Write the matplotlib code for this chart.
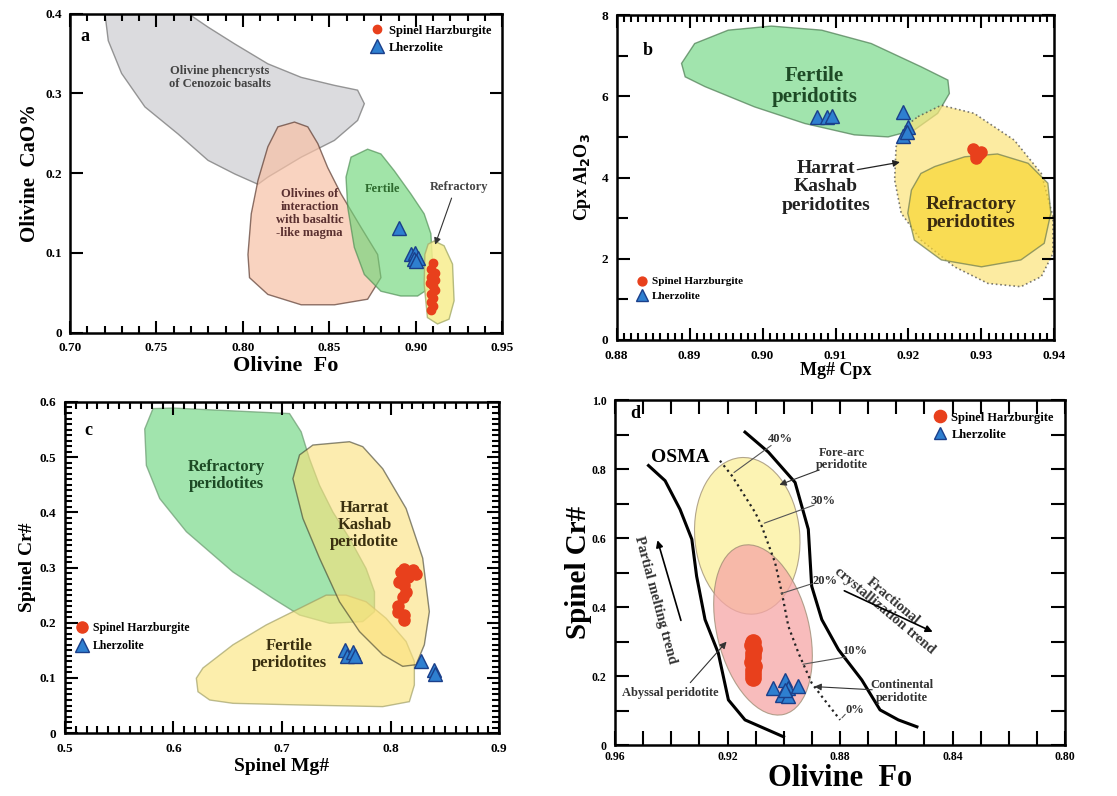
import numpy as np
import matplotlib.pyplot as plt
from matplotlib.patches import Polygon, Ellipse
from matplotlib.transforms import ScaledTranslation
from matplotlib.ticker import MultipleLocator

plt.rcParams['font.family'] = ['Liberation Serif', 'DejaVu Serif']
plt.rcParams['font.weight'] = 'bold'
plt.rcParams['axes.labelweight'] = 'bold'
plt.rcParams['mathtext.default'] = 'bf'

RED = '#e8401c'
BLUE = '#2e7fd0'
BLUE_EDGE = '#1a3f8a'

# ---------------- panel a : olivine Fo vs CaO ----------------
a_pheno_x = [0.7202, 0.7683, 0.7798, 0.7952, 0.8144, 0.8337, 0.8529, 0.8663, 0.8702, 0.8663,
             0.8529, 0.8337, 0.8144, 0.8087, 0.7952, 0.7798, 0.7625, 0.7433, 0.7298, 0.7221]
a_pheno_y = [0.400, 0.400, 0.383, 0.362, 0.337, 0.320, 0.310, 0.304, 0.287, 0.266,
             0.241, 0.220, 0.195, 0.186, 0.199, 0.216, 0.249, 0.283, 0.325, 0.366]
a_inter_x = [0.8298, 0.8202, 0.8144, 0.8087, 0.8048, 0.8029, 0.8038, 0.8144, 0.8337, 0.8529,
             0.8721, 0.8798, 0.8779, 0.8683, 0.8567, 0.8490, 0.8433, 0.8375]
a_inter_y = [0.264, 0.258, 0.233, 0.191, 0.149, 0.098, 0.069, 0.048, 0.035, 0.035,
             0.042, 0.069, 0.098, 0.132, 0.174, 0.207, 0.237, 0.258]
a_fert_x = [0.8721, 0.8798, 0.8875, 0.8971, 0.9048, 0.9087, 0.9096, 0.9087, 0.9010, 0.8913,
            0.8798, 0.8702, 0.8644, 0.8606, 0.8596, 0.8625]
a_fert_y = [0.230, 0.224, 0.203, 0.174, 0.149, 0.124, 0.090, 0.057, 0.046, 0.046,
            0.052, 0.073, 0.107, 0.157, 0.195, 0.220]
a_refr_x = [0.9106, 0.9163, 0.9212, 0.9221, 0.9192, 0.9125, 0.9067, 0.9048, 0.9052, 0.9071]
a_refr_y = [0.115, 0.109, 0.086, 0.040, 0.017, 0.011, 0.019, 0.061, 0.098, 0.111]
a_harz_fo = [0.910, 0.909, 0.911, 0.909, 0.911, 0.908, 0.910, 0.911, 0.909, 0.910, 0.909, 0.910, 0.909]
a_harz_cao = [0.088, 0.080, 0.075, 0.070, 0.066, 0.062, 0.058, 0.053, 0.048, 0.043, 0.038, 0.033, 0.028]
a_lher_fo = [0.8905, 0.897, 0.8995, 0.899, 0.901, 0.900]
a_lher_cao = [0.131, 0.099, 0.100, 0.093, 0.094, 0.090]

# ---------------- panel b : Mg# Cpx vs Al2O3 ----------------
b_fert_x = [0.8889, 0.8907, 0.8953, 0.9012, 0.9081, 0.9149, 0.9217, 0.9254, 0.9256, 0.9240,
            0.9208, 0.9172, 0.9126, 0.9058, 0.8989, 0.8921, 0.8894]
b_fert_y = [6.81, 7.30, 7.63, 7.73, 7.63, 7.30, 6.73, 6.40, 6.07, 5.58,
            5.17, 5.00, 5.05, 5.33, 5.74, 6.24, 6.48]
b_hk_x = [0.9213, 0.9245, 0.9290, 0.9345, 0.9382, 0.9398, 0.9398, 0.9382, 0.9354, 0.9309,
          0.9263, 0.9217, 0.9190, 0.9181, 0.9183, 0.9195]
b_hk_y = [5.50, 5.78, 5.58, 4.92, 4.10, 3.04, 2.13, 1.56, 1.31, 1.39,
          1.80, 2.46, 3.12, 3.94, 4.76, 5.25]
b_refr_x = [0.9236, 0.9277, 0.9322, 0.9364, 0.9391, 0.9395, 0.9386, 0.9354, 0.9300, 0.9245,
            0.9208, 0.9199, 0.9204, 0.9217]
b_refr_y = [4.27, 4.51, 4.58, 4.35, 3.86, 3.12, 2.38, 1.97, 1.80, 1.97,
            2.46, 3.12, 3.69, 4.10]
b_harz_mg = [0.9288, 0.9293, 0.9300, 0.9292, 0.9296]
b_harz_al = [4.70, 4.55, 4.62, 4.48, 4.58]
b_lher_mg = [0.9075, 0.9088, 0.9095, 0.9193, 0.9200, 0.9192, 0.9198]
b_lher_al = [5.50, 5.50, 5.52, 5.62, 5.25, 5.02, 5.12]

# ---------------- panel c : spinel Mg# vs Cr# ----------------
c_refr_x = [0.5812, 0.5996, 0.7069, 0.7176, 0.7253, 0.7345, 0.7467, 0.7621, 0.7774, 0.7851,
            0.7851, 0.7743, 0.7437, 0.7161, 0.6916, 0.6548, 0.6119, 0.5874, 0.5751, 0.5736]
c_refr_y = [0.588, 0.589, 0.579, 0.546, 0.497, 0.449, 0.401, 0.353, 0.298, 0.256,
            0.220, 0.202, 0.199, 0.214, 0.244, 0.292, 0.365, 0.425, 0.485, 0.551]
c_hk_x = [0.7161, 0.7284, 0.7621, 0.7743, 0.7927, 0.8142, 0.8295, 0.8356, 0.8310, 0.8234,
          0.8111, 0.7927, 0.7713, 0.7529, 0.7345, 0.7192, 0.7100]
c_hk_y = [0.504, 0.522, 0.528, 0.519, 0.479, 0.407, 0.317, 0.220, 0.160, 0.124,
          0.121, 0.142, 0.184, 0.238, 0.317, 0.389, 0.461]
c_fert_x = [0.6211, 0.6272, 0.6548, 0.6854, 0.7161, 0.7406, 0.7590, 0.7774, 0.7958, 0.8142,
            0.8218, 0.8218, 0.8172, 0.7927, 0.7161, 0.6548, 0.6334, 0.6226]
c_fert_y = [0.0995, 0.118, 0.160, 0.196, 0.226, 0.250, 0.250, 0.238, 0.208, 0.166,
            0.130, 0.087, 0.057, 0.048, 0.051, 0.054, 0.060, 0.075]
c_harz_mg = [0.8096, 0.8126, 0.8203, 0.8234, 0.8157, 0.8080, 0.8126, 0.8142, 0.8111, 0.8065,
             0.8065, 0.8126, 0.8126]
c_harz_cr = [0.292, 0.297, 0.295, 0.289, 0.283, 0.274, 0.268, 0.256, 0.247, 0.220,
             0.230, 0.214, 0.205]
c_lher_mg = [0.758, 0.760, 0.765, 0.767, 0.828, 0.840, 0.841]
c_lher_cr = [0.150, 0.140, 0.147, 0.140, 0.130, 0.115, 0.107]

# ---------------- panel d : olivine Fo vs spinel Cr# (OSMA) ----------------
d_osma1_x = [0.9481, 0.9422, 0.9369, 0.9327, 0.9310, 0.9280, 0.9233, 0.9197, 0.9138, 0.9043, 0.9001]
d_osma1_y = [0.811, 0.767, 0.684, 0.597, 0.490, 0.364, 0.267, 0.131, 0.073, 0.039, 0.024]
d_osma2_x = [0.9138, 0.9055, 0.8960, 0.8913, 0.8901, 0.8865, 0.8806, 0.8723, 0.8658, 0.8593, 0.8527]
d_osma2_y = [0.908, 0.850, 0.762, 0.626, 0.461, 0.364, 0.277, 0.189, 0.102, 0.073, 0.053]
d_melt_x = [0.9227, 0.9185, 0.9102, 0.9079, 0.9031, 0.9007, 0.8984, 0.8948, 0.8901, 0.8865, 0.8800]
d_melt_y = [0.825, 0.782, 0.675, 0.636, 0.529, 0.442, 0.345, 0.267, 0.180, 0.141, 0.073]
# fields: centre (Fo, Cr#), width/height in inches, angle
d_forearc = [0.9130, 0.607, 1.05, 1.57, 5]
d_abyssal = [0.9074, 0.334, 0.92, 1.74, 14]
d_harz_fo = [0.9108, 0.9112, 0.9105, 0.9110, 0.9108, 0.9112, 0.9106, 0.9110, 0.9108, 0.9110]
d_harz_cr = [0.300, 0.290, 0.280, 0.268, 0.255, 0.242, 0.230, 0.218, 0.206, 0.195]
d_lher_fo = [0.9037, 0.8996, 0.8984, 0.8948, 0.9007, 0.8984, 0.8996]
d_lher_cr = [0.165, 0.189, 0.165, 0.170, 0.146, 0.141, 0.160]

fig = plt.figure(figsize=(11.17, 7.96), dpi=100)


def style(ax, xmaj, xmin, ymaj, ymin, lsize=9.5, xpad=7):
    ax.xaxis.set_major_locator(MultipleLocator(xmaj))
    ax.xaxis.set_minor_locator(MultipleLocator(xmin))
    ax.yaxis.set_major_locator(MultipleLocator(ymaj))
    if ymin:
        ax.yaxis.set_minor_locator(MultipleLocator(ymin))
    ax.tick_params(which='both', direction='in', top=True, right=True, width=1.5, labelsize=lsize)
    ax.tick_params(which='major', length=9)
    ax.tick_params(which='minor', length=5)
    ax.tick_params(axis='x', which='major', pad=xpad)
    ax.tick_params(axis='y', which='major', pad=6)
    for s in ax.spines.values():
        s.set_linewidth(1.8)


def field(ax, xs, ys, fc, ec='#555555', ls='-', alpha=0.7, lw=1.0):
    ax.add_patch(Polygon(np.column_stack([xs, ys]), closed=True, facecolor=fc, edgecolor=ec,
                         linestyle=ls, alpha=alpha, linewidth=lw, zorder=1))


def points(ax, hx, hy, lx, ly, ms_c=6, ms_t=9):
    ax.plot(hx, hy, 'o', color=RED, ms=ms_c, mec=RED, ls='none', zorder=3, label='Spinel Harzburgite')
    ax.plot(lx, ly, '^', color=BLUE, ms=ms_t, mec=BLUE_EDGE, mew=1, ls='none', zorder=3, label='Lherzolite')


# ---- a ----
ax = fig.add_axes([0.0627, 0.582, 0.387, 0.401])
field(ax, a_pheno_x, a_pheno_y, '#cfcfd4', ec='#777777', alpha=0.75)
field(ax, a_inter_x, a_inter_y, '#f7c1a6', ec='#5a3a30', alpha=0.7)
field(ax, a_fert_x, a_fert_y, '#6fd67a', ec='#4a8a50', alpha=0.65)
field(ax, a_refr_x, a_refr_y, '#f7ee8e', ec='#a9b070', alpha=0.85)
points(ax, a_harz_fo, a_harz_cao, a_lher_fo, a_lher_cao, ms_c=6, ms_t=10)
ax.set_xlim(0.70, 0.95)
ax.set_ylim(0, 0.4)
style(ax, 0.05, 0.01, 0.1, None)
ax.set_xticks([0.70, 0.75, 0.80, 0.85, 0.90, 0.95], ['0.70', '0.75', '0.80', '0.85', '0.90', '0.95'])
ax.set_yticks([0, 0.1, 0.2, 0.3, 0.4], ['0', '0.1', '0.2', '0.3', '0.4'])
ax.set_xlabel('Olivine  Fo', fontsize=16, labelpad=1)
ax.set_ylabel('Olivine  CaO%', fontsize=15, labelpad=4)
ax.text(0.7087, 0.371, 'a', fontsize=13, ha='center', va='center')
ax.text(0.7865, 0.320, 'Olivine phencrysts\nof Cenozoic basalts', fontsize=9, ha='center', va='center',
        color='#444444', linespacing=1.1)
ax.text(0.8385, 0.149, 'Olivines of\ninteraction\nwith basaltic\n-like magma', fontsize=9, ha='center',
        va='center', color='#5a3030', linespacing=1.1)
ax.text(0.8808, 0.180, 'Fertile', fontsize=9, ha='center', va='center', color='#2d6a2d')
ax.text(0.925, 0.182, 'Refractory', fontsize=9, ha='center', va='center', color='#444444')
ax.annotate('', xy=(0.9106, 0.107), xytext=(0.9212, 0.172),
            arrowprops=dict(arrowstyle='-|>', color='#333333', lw=0.8))
ax.legend(loc='upper right', frameon=False, fontsize=9, handletextpad=0.3, borderaxespad=0.5,
          labelspacing=0.4, handlelength=1.2)

# ---- b ----
ax = fig.add_axes([0.552, 0.573, 0.392, 0.408])
field(ax, b_fert_x, b_fert_y, '#7ad98a', ec='#4a7a50', alpha=0.7)
field(ax, b_hk_x, b_hk_y, '#fbe37a', ec='#444444', ls=':', alpha=0.7, lw=1.2)
field(ax, b_refr_x, b_refr_y, '#f9d732', ec='#6a7a50', alpha=0.7)
points(ax, b_harz_mg, b_harz_al, b_lher_mg, b_lher_al, ms_c=8, ms_t=10)
ax.set_xlim(0.88, 0.94)
ax.set_ylim(0, 8)
style(ax, 0.01, 0.001, 2, 1)
ax.set_xticks([0.88, 0.89, 0.90, 0.91, 0.92, 0.93, 0.94],
              ['0.88', '0.89', '0.90', '0.91', '0.92', '0.93', '0.94'])
ax.tick_params(axis='y', which='minor', length=8)
ax.set_xlabel('Mg# Cpx', fontsize=13, labelpad=0)
ax.set_ylabel('Cpx Al$_2$O$_3$', fontsize=13, labelpad=6)
ax.text(0.8843, 7.14, 'b', fontsize=13, ha='center', va='center')
ax.text(0.9071, 6.24, 'Fertile\nperidotits', fontsize=15, ha='center', va='center', color='#1d4a25',
        linespacing=1.1)
ax.text(0.9087, 3.77, 'Harrat\nKashab\nperidotites', fontsize=14, ha='center', va='center',
        color='#222222', linespacing=1.1)
ax.text(0.9286, 3.12, 'Refractory\nperidotites', fontsize=14, ha='center', va='center',
        color='#3a2a10', linespacing=1.1)
ax.annotate('', xy=(0.9192, 4.39), xytext=(0.9126, 4.18),
            arrowprops=dict(arrowstyle='-|>', color='#222222', lw=0.9))
ax.legend(loc='lower left', bbox_to_anchor=(0.02, 0.09), frameon=False, fontsize=8,
          handletextpad=0.3, labelspacing=0.4, handlelength=1.2, markerscale=0.8)

# ---- c ----
ax = fig.add_axes([0.058, 0.079, 0.389, 0.416])
field(ax, c_refr_x, c_refr_y, '#7ad98a', ec='#6a9a70', alpha=0.7)
field(ax, c_fert_x, c_fert_y, '#fbe680', ec='#9a9a60', alpha=0.65)
field(ax, c_hk_x, c_hk_y, '#fbe07a', ec='#3a3a2a', alpha=0.6)
points(ax, c_harz_mg, c_harz_cr, c_lher_mg, c_lher_cr, ms_c=8, ms_t=10)
ax.set_xlim(0.5, 0.9)
ax.set_ylim(0, 0.6)
style(ax, 0.1, 0.01, 0.1, 0.01)
ax.set_xticks([0.5, 0.6, 0.7, 0.8, 0.9], ['0.5', '0.6', '0.7', '0.8', '0.9'])
ax.set_yticks([0, 0.1, 0.2, 0.3, 0.4, 0.5, 0.6], ['0', '0.1', '0.2', '0.3', '0.4', '0.5', '0.6'])
ax.set_xlabel('Spinel Mg#', fontsize=14, labelpad=2)
ax.set_ylabel('Spinel Cr#', fontsize=14, labelpad=3)
ax.text(0.5215, 0.549, 'c', fontsize=13, ha='center', va='center')
ax.text(0.6487, 0.467, 'Refractory\nperidotites', fontsize=12, ha='center', va='center',
        color='#1d4a25', linespacing=1.1)
ax.text(0.7759, 0.377, 'Harrat\nKashab\nperidotite', fontsize=12, ha='center', va='center',
        color='#3a3010', linespacing=1.1)
ax.text(0.7069, 0.142, 'Fertile\nperidotites', fontsize=12, ha='center', va='center',
        color='#3a3010', linespacing=1.1)
ax.legend(loc='center left', bbox_to_anchor=(0.0, 0.29), frameon=False, fontsize=8.5,
          handletextpad=0.3, labelspacing=0.5, handlelength=1.2)

# ---- d ----
ax = fig.add_axes([0.5506, 0.064, 0.403, 0.433])
ax.set_xlim(0.96, 0.80)
ax.set_ylim(0, 1.0)
for cx, cy, w, h, ang, fc in [d_forearc + ['#fbef9a'], d_abyssal + ['#f6a6a6']]:
    ax.add_patch(Ellipse((0, 0), w, h, angle=ang, facecolor=fc, edgecolor='#9a8a70', alpha=0.75,
                         lw=0.8, zorder=1,
                         transform=fig.dpi_scale_trans + ScaledTranslation(cx, cy, ax.transData)))
ax.plot(d_osma1_x, d_osma1_y, color='black', lw=2.2, zorder=2)
ax.plot(d_osma2_x, d_osma2_y, color='black', lw=2.2, zorder=2)
ax.plot(d_melt_x, d_melt_y, color='#222222', lw=1.6, ls=':', zorder=2)
points(ax, d_harz_fo, d_harz_cr, d_lher_fo, d_lher_cr, ms_c=11, ms_t=10)
style(ax, 0.04, 0.01, 0.2, 0.1, lsize=8.5, xpad=4)
ax.set_xticks([0.96, 0.92, 0.88, 0.84, 0.80], ['0.96', '0.92', '0.88', '0.84', '0.80'])
ax.set_yticks([0, 0.2, 0.4, 0.6, 0.8, 1.0], ['0', '0.2', '0.4', '0.6', '0.8', '1.0'])
ax.tick_params(which='major', length=10)
ax.tick_params(which='minor', length=10)
ax.set_xlabel('Olivine  Fo', fontsize=22, labelpad=1)
ax.set_ylabel('Spinel Cr#', fontsize=21, labelpad=0)
ax.text(0.9529, 0.961, 'd', fontsize=13, ha='center', va='center')
ax.text(0.9369, 0.835, 'OSMA', fontsize=14, ha='center', va='center')
lab = dict(fontsize=9, ha='center', va='center', color='#333333')
ln = dict(arrowstyle='-', color='#555555', lw=0.8)
ar = dict(arrowstyle='-|>', color='#333333', lw=0.8)
ax.text(0.9013, 0.888, '40%', **lab)
ax.annotate('', xy=(0.9185, 0.786), xytext=(0.9037, 0.874), arrowprops=ln)
ax.text(0.8794, 0.830, 'Fore-arc\nperidotite', linespacing=1.1, **lab)
ax.annotate('', xy=(0.9025, 0.752), xytext=(0.8865, 0.801), arrowprops=ar)
ax.text(0.8859, 0.709, '30%', **lab)
ax.annotate('', xy=(0.9079, 0.641), xytext=(0.8883, 0.699), arrowprops=ln)
ax.text(0.8853, 0.476, '20%', **lab)
ax.annotate('', xy=(0.9019, 0.437), xytext=(0.8889, 0.471), arrowprops=ln)
ax.text(0.8747, 0.272, '10%', **lab)
ax.annotate('', xy=(0.8942, 0.233), xytext=(0.8770, 0.257), arrowprops=ln)
ax.text(0.8747, 0.102, '0%', **lab)
ax.annotate('', xy=(0.8800, 0.073), xytext=(0.8775, 0.095), arrowprops=ln)
ax.text(0.8581, 0.155, 'Continental\nperidotite', linespacing=1.1, **lab)
ax.annotate('', xy=(0.8901, 0.170), xytext=(0.8676, 0.160), arrowprops=ar)
ax.text(0.9404, 0.150, 'Abyssal peridotite', **lab)
ax.annotate('', xy=(0.9197, 0.306), xytext=(0.9339, 0.175), arrowprops=ar)
ax.text(0.9458, 0.422, 'Partial melting trend', fontsize=10.5, rotation=-75, ha='center',
        va='center', color='#333333')
ax.annotate('', xy=(0.9452, 0.602), xytext=(0.9363, 0.354),
            arrowprops=dict(arrowstyle='-|>', color='black', lw=1.2))
ax.text(0.8628, 0.403, 'Fractional\ncrystallization trend', fontsize=10.5, rotation=-40, ha='center',
        va='center', color='#333333', linespacing=1.0)
ax.annotate('', xy=(0.8462, 0.325), xytext=(0.8794, 0.451),
            arrowprops=dict(arrowstyle='-|>', color='black', lw=1.2))
ax.legend(loc='upper right', frameon=False, fontsize=9, handletextpad=0.3, labelspacing=0.4,
          handlelength=1.2, markerscale=0.8)

fig.savefig('out.png', dpi=100)
